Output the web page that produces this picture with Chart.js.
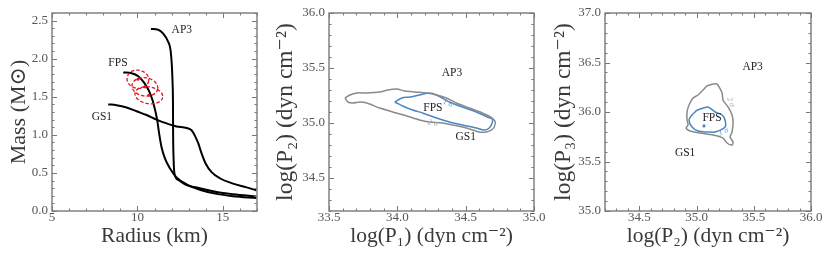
<!DOCTYPE html>
<html>
<head>
<meta charset="utf-8">
<script src="https://cdn.jsdelivr.net/npm/chart.js@4.4.3/dist/chart.umd.min.js"></script>
<style>
  html, body { margin: 0; padding: 0; background: #fff; }
  #wrap { position: relative; width: 830px; height: 260px; }
  #wrap canvas { position: absolute; top: 0; }
</style>
</head>
<body>
<div id="wrap">
  <canvas id="mr" width="270" height="260" style="left:0px"></canvas>
  <canvas id="p12" width="278" height="260" style="left:272px"></canvas>
  <canvas id="p23" width="280" height="260" style="left:550px"></canvas>
</div>
<script>
// ---- Panel 1: mass-radius curves (radius km, mass Msun) ----
const ap3R = [10.79, 11.22, 11.51, 11.76, 11.94, 12.02, 12.06, 12.08, 12.09, 12.12, 12.17, 12.39, 12.88, 13.65, 14.63, 15.6, 16.97];
const ap3M = [2.39, 2.38, 2.33, 2.24, 2.11, 1.89, 1.67, 1.45, 1.02, 0.67, 0.49, 0.41, 0.34, 0.30, 0.25, 0.22, 0.19];
const fpsR = [9.17, 9.66, 10.05, 10.38, 10.67, 10.89, 11.04, 11.16, 11.27, 11.41, 11.61, 11.90, 12.29, 12.88, 13.65, 14.63, 15.6, 16.97];
const fpsM = [1.82, 1.81, 1.77, 1.69, 1.58, 1.45, 1.32, 1.19, 1.02, 0.84, 0.69, 0.56, 0.44, 0.35, 0.28, 0.225, 0.195, 0.17];
const gs1R = [8.29, 8.78, 9.37, 9.95, 10.54, 11.12, 11.71, 12.29, 12.88, 13.17, 13.36, 13.56, 13.75, 14.0, 14.34, 14.82, 15.6, 16.39, 16.97];
const gs1M = [1.40, 1.39, 1.36, 1.31, 1.26, 1.20, 1.15, 1.11, 1.09, 1.06, 0.99, 0.89, 0.76, 0.62, 0.51, 0.43, 0.36, 0.31, 0.27];

// measurement ellipses (centre and half widths)
const ellR = [10.03, 10.44, 10.67];
const ellM = [1.73, 1.63, 1.52];
const ellDR = [0.64, 0.76, 0.82];
const ellDM = [0.12, 0.12, 0.11];

const mrLabels = ['AP3', 'FPS', 'GS1'];
const mrLabelR = [12.6, 8.86, 7.92];
const mrLabelM = [2.38, 1.95, 1.23];

const mrTicksX = [5, 10, 15];
const mrTicksY = [0.0, 0.5, 1.0, 1.5, 2.0, 2.5];

// ---- Panel 2: log P1 vs log P2 contours ----
const c2outX = [33.617, 33.653, 33.704, 33.777, 33.871, 33.930, 33.995, 34.054, 34.126, 34.214, 34.287, 34.359, 34.432, 34.527, 34.622, 34.694, 34.716, 34.709, 34.687, 34.651, 34.600, 34.505, 34.403, 34.330, 34.236, 34.163, 34.068, 33.966, 33.871, 33.777, 33.726, 33.675, 33.638, 33.617];
const c2outY = [35.227, 35.255, 35.273, 35.273, 35.282, 35.300, 35.309, 35.291, 35.282, 35.273, 35.255, 35.227, 35.182, 35.136, 35.091, 35.045, 35.009, 34.964, 34.936, 34.918, 34.918, 34.955, 34.982, 35.000, 35.009, 35.027, 35.064, 35.100, 35.136, 35.182, 35.191, 35.182, 35.191, 35.227];
const c2inX = [33.981, 34.032, 34.090, 34.163, 34.236, 34.287, 34.381, 34.476, 34.578, 34.658, 34.694, 34.694, 34.673, 34.636, 34.578, 34.476, 34.381, 34.287, 34.185, 34.112, 34.039, 33.995, 33.981];
const c2inY = [35.191, 35.227, 35.236, 35.255, 35.273, 35.255, 35.191, 35.145, 35.100, 35.055, 35.036, 35.000, 34.955, 34.936, 34.955, 34.982, 35.009, 35.045, 35.091, 35.118, 35.155, 35.182, 35.191];

const p12Labels = ['AP3', 'FPS', 'GS1'];
const p12LabelX = [34.40, 34.26, 34.50];
const p12LabelY = [35.455, 35.136, 34.873];
const p12Sigma = ['2 σ', '1 σ'];
const p12SigmaX = [34.26, 34.37];
const p12SigmaY = [35.00, 35.18];

const p12TicksX = [33.5, 34.0, 34.5, 35.0];
const p12TicksY = [34.5, 35.0, 35.5, 36.0];

// ---- Panel 3: log P2 vs log P3 contours ----
const c3outX = [35.144, 35.092, 35.057, 35.013, 34.969, 34.934, 34.917, 34.917, 34.926, 34.908, 34.943, 35.030, 35.144, 35.231, 35.266, 35.310, 35.319, 35.293, 35.310, 35.319, 35.310, 35.275, 35.231, 35.223, 35.197, 35.179, 35.144];
const c3outY = [36.283, 36.263, 36.222, 36.172, 36.141, 36.071, 36.000, 35.919, 35.869, 35.838, 35.808, 35.788, 35.768, 35.737, 35.687, 35.667, 35.697, 35.747, 35.798, 35.889, 35.970, 36.051, 36.121, 36.192, 36.253, 36.283, 36.283];
const c3inX = [35.004, 35.092, 35.118, 35.162, 35.223, 35.249, 35.249, 35.162, 35.092, 35.013, 34.960, 34.934, 34.960, 34.987, 35.004];
const c3inY = [36.020, 36.051, 36.040, 36.000, 35.970, 35.919, 35.848, 35.798, 35.798, 35.808, 35.848, 35.919, 35.970, 36.000, 36.020];
const c3peakX = [35.065];
const c3peakY = [35.859];

const p23Labels = ['AP3', 'FPS', 'GS1'];
const p23LabelX = [35.49, 35.135, 34.90];
const p23LabelY = [36.455, 35.94, 35.586];
const p23Sigma = ['2 σ', '1 σ'];
const p23SigmaX = [35.30, 35.235];
const p23SigmaY = [36.10, 35.80];

const p23TicksX = [34.5, 35.0, 35.5, 36.0];
const p23TicksY = [35.0, 35.5, 36.0, 36.5, 37.0];

// ---------------------------------------------------------------
const SERIF = '"Liberation Serif", "DejaVu Serif", serif';
const pts = (xs, ys) => xs.map((v, i) => ({ x: v, y: ys[i] }));

// Frame with inward major/minor ticks, ellipses and text labels
const framePlugin = {
    id: 'frame',
    afterDatasetsDraw(chart, args, opts) {
        const { ctx, chartArea: a, scales: { x, y } } = chart;
        ctx.save();
        ctx.beginPath();
        ctx.rect(a.left, a.top, a.right - a.left, a.bottom - a.top);
        ctx.clip();

        (opts.ellipses || []).forEach(e => {
            const cx = x.getPixelForValue(e.x), cy = y.getPixelForValue(e.y);
            const rx = Math.abs(x.getPixelForValue(e.x + e.dx) - cx);
            const ry = Math.abs(y.getPixelForValue(e.y + e.dy) - cy);
            ctx.strokeStyle = '#e8141c';
            ctx.lineWidth = 1.3;
            ctx.setLineDash([3.5, 2]);
            ctx.beginPath();
            ctx.ellipse(cx, cy, rx, ry, 0.15, 0, Math.PI * 2);
            ctx.stroke();
            ctx.setLineDash([]);
            ctx.fillStyle = '#e8141c';
            ctx.beginPath();
            ctx.arc(cx, cy, 1.6, 0, Math.PI * 2);
            ctx.fill();
        });

        ctx.textAlign = 'center';
        ctx.textBaseline = 'middle';
        (opts.labels || []).forEach(l => {
            ctx.font = '11.5px ' + SERIF;
            ctx.fillStyle = '#222';
            ctx.fillText(l.text, x.getPixelForValue(l.x), y.getPixelForValue(l.y));
        });
        (opts.sigmas || []).forEach(l => {
            ctx.save();
            ctx.translate(x.getPixelForValue(l.x), y.getPixelForValue(l.y));
            ctx.rotate(l.rot);
            ctx.font = 'italic 8px ' + SERIF;
            ctx.fillStyle = l.color;
            ctx.fillText(l.text, 0, 0);
            ctx.restore();
        });
        ctx.restore();
    },
    afterDraw(chart, args, opts) {
        const { ctx, chartArea: a, scales: { x, y } } = chart;
        ctx.save();
        ctx.strokeStyle = '#777';
        ctx.lineWidth = 1;
        const minor = (scale, step) => {
            const out = [];
            const i0 = Math.ceil(scale.min / step - 1e-6), i1 = Math.floor(scale.max / step + 1e-6);
            for (let i = i0; i <= i1; i++) out.push(i * step);
            return out;
        };
        const drawX = (vals, len) => vals.forEach(v => {
            const px = Math.round(x.getPixelForValue(v)) + 0.5;
            ctx.beginPath();
            ctx.moveTo(px, a.bottom); ctx.lineTo(px, a.bottom - len);
            ctx.moveTo(px, a.top); ctx.lineTo(px, a.top + len);
            ctx.stroke();
        });
        const drawY = (vals, len) => vals.forEach(v => {
            const py = Math.round(y.getPixelForValue(v)) + 0.5;
            ctx.beginPath();
            ctx.moveTo(a.left, py); ctx.lineTo(a.left + len, py);
            ctx.moveTo(a.right, py); ctx.lineTo(a.right - len, py);
            ctx.stroke();
        });
        drawX(minor(x, opts.minorX), 2.5);
        drawY(minor(y, opts.minorY), 2.5);
        drawX(x.ticks.map(t => t.value), 5);
        drawY(y.ticks.map(t => t.value), 5);
        ctx.lineWidth = 1.4;
        ctx.strokeStyle = '#7a7a7a';
        ctx.strokeRect(a.left, a.top, a.right - a.left, a.bottom - a.top);
        ctx.restore();
    }
};

function axes(cfg) {
    const tickFont = { family: SERIF, size: 13 };
    return {
        x: {
            type: 'linear', min: cfg.xmin, max: cfg.xmax,
            grid: { display: false, drawTicks: false },
            border: { display: false },
            afterBuildTicks: s => { s.ticks = cfg.xticks.map(v => ({ value: v })); },
            afterFit: s => { s.height = cfg.xh; },
            ticks: { color: '#555', font: tickFont, padding: -1, maxRotation: 0,
                     callback: v => cfg.xfmt(v) },
            title: { display: true, text: cfg.xtitle, color: '#3a3a3a',
                     font: { family: SERIF, size: 21.5 },
                     padding: { top: 0, bottom: 11 } }
        },
        y: {
            type: 'linear', min: cfg.ymin, max: cfg.ymax,
            grid: { display: false, drawTicks: false },
            border: { display: false },
            afterBuildTicks: s => { s.ticks = cfg.yticks.map(v => ({ value: v })); },
            afterFit: s => { s.width = cfg.yw; },
            ticks: { color: '#555', font: tickFont, padding: 4,
                     callback: v => v.toFixed(1) },
            title: { display: true, text: cfg.ytitle, color: '#3a3a3a',
                     font: { family: SERIF, size: cfg.ytsize, lineHeight: 1 },
                     padding: { top: cfg.ytpad, bottom: 0 } }
        }
    };
}

const lineDs = (data, color, width, extra) => Object.assign({
    data, borderColor: color, borderWidth: width, pointRadius: 0,
    fill: false, showLine: true
}, extra || {});

// Panel 1
new Chart(document.getElementById('mr'), {
    type: 'line',
    data: {
        datasets: [
            lineDs(pts(ap3R, ap3M), '#000', 2, { cubicInterpolationMode: 'monotone' }),
            lineDs(pts(fpsR, fpsM), '#000', 2, { cubicInterpolationMode: 'monotone' }),
            lineDs(pts(gs1R, gs1M), '#000', 2, { cubicInterpolationMode: 'monotone' })
        ]
    },
    options: {
        responsive: false, animation: false,
        layout: { padding: { left: 0, right: 13, top: 13, bottom: 0 } },
        scales: axes({
            xmin: 5, xmax: 17, ymin: 0, ymax: 2.6, xticks: mrTicksX, yticks: mrTicksY,
            xfmt: v => String(v), xh: 49, yw: 52, ytpad: 8, ytsize: 22,
            xtitle: 'Radius (km)', ytitle: 'Mass (M⊙)'
        }),
        plugins: {
            legend: { display: false }, tooltip: { enabled: false },
            frame: {
                minorX: 1, minorY: 0.1,
                ellipses: ellR.map((r, i) => ({ x: r, y: ellM[i], dx: ellDR[i], dy: ellDM[i] })),
                labels: mrLabels.map((t, i) => ({ text: t, x: mrLabelR[i], y: mrLabelM[i] }))
            }
        }
    },
    plugins: [framePlugin]
});

// Panel 2
new Chart(document.getElementById('p12'), {
    type: 'line',
    data: {
        datasets: [
            lineDs(pts(c2outX, c2outY), '#8a8a8a', 1.5, { tension: 0.25 }),
            lineDs(pts(c2inX, c2inY), '#4a86c5', 1.5, { tension: 0.25 })
        ]
    },
    options: {
        responsive: false, animation: false,
        layout: { padding: { left: 0, right: 16, top: 13, bottom: 0 } },
        scales: axes({
            xmin: 33.5, xmax: 35.0, ymin: 34.2, ymax: 36.0, xticks: p12TicksX, yticks: p12TicksY,
            xfmt: v => v.toFixed(1), xh: 49, yw: 57, ytpad: 2, ytsize: 23.5,
            xtitle: 'log(P₁) (dyn cm⁻²)', ytitle: 'log(P₂) (dyn cm⁻²)'
        }),
        plugins: {
            legend: { display: false }, tooltip: { enabled: false },
            frame: {
                minorX: 0.1, minorY: 0.1,
                labels: p12Labels.map((t, i) => ({ text: t, x: p12LabelX[i], y: p12LabelY[i] })),
                sigmas: [
                    { text: p12Sigma[0], x: p12SigmaX[0], y: p12SigmaY[0], rot: 0.2, color: '#aaa' },
                    { text: p12Sigma[1], x: p12SigmaX[1], y: p12SigmaY[1], rot: 0.4, color: '#6c9bd2' }
                ]
            }
        }
    },
    plugins: [framePlugin]
});

// Panel 3
new Chart(document.getElementById('p23'), {
    type: 'line',
    data: {
        datasets: [
            lineDs(pts(c3outX, c3outY), '#8a8a8a', 1.5, { tension: 0.25 }),
            lineDs(pts(c3inX, c3inY), '#4a86c5', 1.5, { tension: 0.3 }),
            { data: pts(c3peakX, c3peakY), showLine: false, pointRadius: 1.6,
              pointBackgroundColor: '#4a86c5', pointBorderWidth: 0 }
        ]
    },
    options: {
        responsive: false, animation: false,
        layout: { padding: { left: 0, right: 19, top: 13, bottom: 0 } },
        scales: axes({
            xmin: 34.2, xmax: 36.0, ymin: 35.0, ymax: 37.0, xticks: p23TicksX, yticks: p23TicksY,
            xfmt: v => v.toFixed(1), xh: 49, yw: 55, ytpad: 2, ytsize: 23.5,
            xtitle: 'log(P₂) (dyn cm⁻²)', ytitle: 'log(P₃) (dyn cm⁻²)'
        }),
        plugins: {
            legend: { display: false }, tooltip: { enabled: false },
            frame: {
                minorX: 0.1, minorY: 0.1,
                labels: p23Labels.map((t, i) => ({ text: t, x: p23LabelX[i], y: p23LabelY[i] })),
                sigmas: [
                    { text: p23Sigma[0], x: p23SigmaX[0], y: p23SigmaY[0], rot: 1.2, color: '#aaa' },
                    { text: p23Sigma[1], x: p23SigmaX[1], y: p23SigmaY[1], rot: -0.4, color: '#6c9bd2' }
                ]
            }
        }
    },
    plugins: [framePlugin]
});
</script>
</body>
</html>
